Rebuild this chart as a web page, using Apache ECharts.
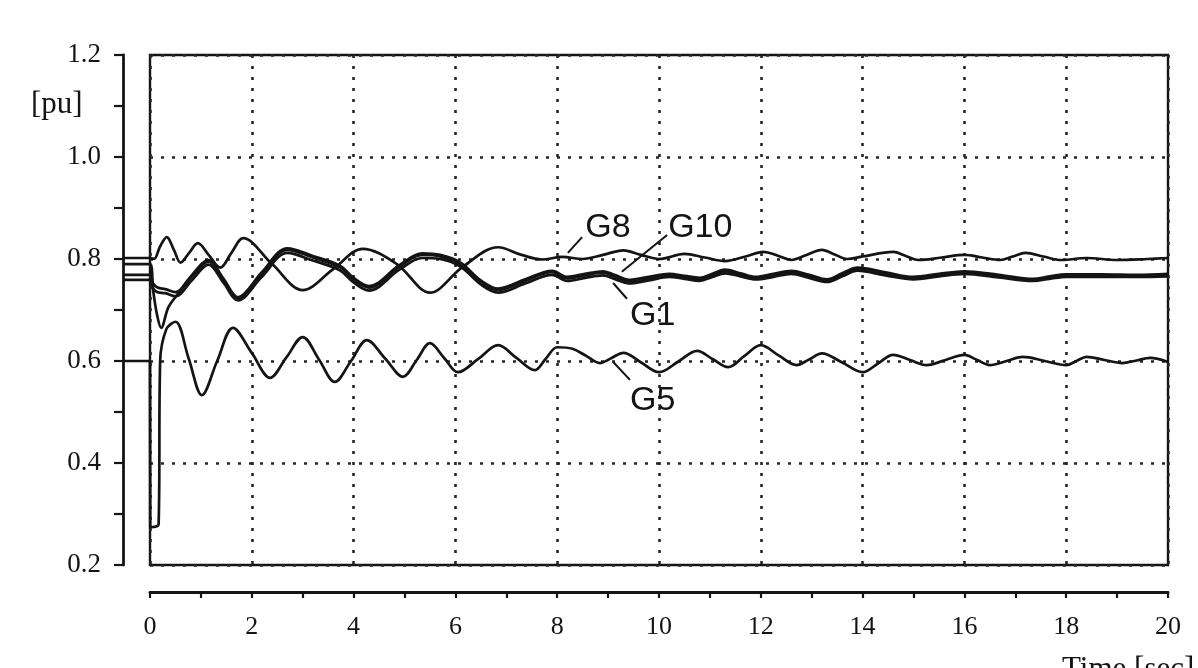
<!DOCTYPE html>
<html><head><meta charset="utf-8">
<script src="https://cdn.jsdelivr.net/npm/echarts@6/dist/echarts.min.js"></script>
<style>html,body{margin:0;padding:0;background:#fff}#c{width:1198px;height:668px}</style>
</head><body><div id="c"></div>
<script>
const g8 = [[-0.53,.802],[0,.802],[0.08,.80],[0.2,.825],[0.33,.843],[0.47,.818],[0.6,.793],[0.77,.812],[0.94,.831],[1.16,.807],[1.38,.783],[1.6,.812],[1.83,.841],[2.4,.79],[3.0,.739],[3.6,.78],[4.18,.82],[4.85,.79],[5.5,.734],[6.15,.785],[6.84,.823],[7.3,.808],[7.7,.799],[8.1,.804],[8.5,.80],[8.9,.808],[9.3,.817],[9.65,.808],[10.0,.80],[10.5,.81],[10.9,.803],[11.3,.796],[11.7,.805],[12.05,.814],[12.35,.806],[12.6,.798],[12.9,.808],[13.2,.818],[13.45,.809],[13.7,.80],[14.0,.805],[14.6,.814],[14.85,.806],[15.1,.798],[15.55,.803],[16.0,.808],[16.35,.803],[16.7,.798],[16.95,.805],[17.2,.812],[17.55,.805],[17.9,.798],[18.4,.802],[19.0,.798],[19.6,.80],[20,.802]];
const gb = [[-0.53,.79],[0,.79],[0.06,.74],[0.14,.69],[0.22,.665],[0.36,.705],[0.52,.728],[0.82,.768],[1.15,.798],[1.44,.762],[1.73,.725],[2.19,.773],[2.7,.821],[3.2,.806],[3.73,.787],[4.0,.763],[4.3,.747],[4.9,.788],[5.35,.811],[5.7,.808],[6.1,.793],[6.5,.758],[6.84,.742],[7.37,.76],[7.9,.777],[8.2,.765],[8.55,.771],[8.9,.776],[9.15,.768],[9.4,.759],[9.8,.765],[10.2,.771],[10.5,.767],[10.8,.763],[11.05,.771],[11.3,.779],[11.6,.772],[11.9,.765],[12.25,.771],[12.6,.777],[12.95,.769],[13.3,.76],[13.6,.772],[13.9,.783],[14.45,.774],[15.0,.765],[15.5,.771],[16.0,.776],[16.67,.769],[17.35,.761],[17.67,.766],[18.0,.77],[18.7,.77],[19.4,.769],[20,.771]];
const g10 = [[-0.53,.769],[0,.769],[0.06,.752],[0.15,.744],[0.3,.741],[0.5,.735],[0.82,.765],[1.15,.795],[1.44,.759],[1.73,.723],[2.19,.77],[2.7,.818],[3.2,.803],[3.73,.784],[4.0,.76],[4.3,.744],[4.9,.785],[5.35,.808],[5.7,.805],[6.1,.79],[6.5,.755],[6.84,.739],[7.37,.757],[7.9,.774],[8.2,.762],[8.55,.768],[8.9,.773],[9.15,.765],[9.4,.756],[9.8,.762],[10.2,.768],[10.5,.764],[10.8,.76],[11.05,.768],[11.3,.776],[11.6,.769],[11.9,.762],[12.25,.768],[12.6,.774],[12.95,.766],[13.3,.757],[13.6,.769],[13.9,.78],[14.45,.771],[15.0,.762],[15.5,.768],[16.0,.773],[16.67,.766],[17.35,.758],[17.67,.763],[18.0,.767],[18.7,.767],[19.4,.766],[20,.768]];
const g1 = [[-0.53,.759],[0,.759],[0.06,.742],[0.15,.735],[0.3,.733],[0.5,.727],[0.82,.758],[1.15,.789],[1.44,.754],[1.73,.719],[2.19,.764],[2.7,.812],[3.2,.797],[3.73,.778],[4.0,.754],[4.3,.738],[4.9,.779],[5.35,.802],[5.7,.8],[6.1,.785],[6.5,.75],[6.84,.734],[7.37,.752],[7.9,.769],[8.2,.757],[8.55,.763],[8.9,.768],[9.15,.76],[9.4,.752],[9.8,.758],[10.2,.765],[10.5,.761],[10.8,.757],[11.05,.765],[11.3,.772],[11.6,.766],[11.9,.76],[12.25,.765],[12.6,.771],[12.95,.763],[13.3,.755],[13.6,.766],[13.9,.777],[14.45,.768],[15.0,.76],[15.5,.766],[16.0,.771],[16.67,.764],[17.35,.757],[17.67,.761],[18.0,.765],[18.7,.765],[19.4,.765],[20,.766]];
const g5 = [[-0.53,.6],[0,.6],[0.005,.274],[0.17,.28],[0.2,.6],[0.32,.662],[0.5,.677],[0.76,.605],[1.02,.533],[1.32,.6],[1.63,.665],[2.0,.616],[2.36,.567],[2.68,.607],[3.0,.647],[3.32,.603],[3.63,.559],[3.95,.60],[4.26,.641],[4.62,.605],[4.97,.569],[5.24,.602],[5.5,.635],[5.78,.606],[6.05,.578],[6.45,.604],[6.84,.631],[7.2,.606],[7.56,.582],[7.78,.605],[8.0,.627],[8.3,.624],[8.57,.61],[8.84,.596],[9.07,.606],[9.3,.616],[9.65,.597],[10.0,.578],[10.38,.599],[10.75,.62],[11.05,.604],[11.36,.588],[11.68,.61],[12.0,.631],[12.35,.611],[12.7,.592],[12.95,.603],[13.2,.615],[13.6,.597],[14.0,.578],[14.3,.595],[14.6,.612],[14.93,.602],[15.26,.592],[15.63,.602],[16.0,.612],[16.25,.602],[16.5,.592],[16.83,.6],[17.15,.608],[17.58,.6],[18.0,.592],[18.2,.6],[18.4,.608],[18.75,.602],[19.1,.596],[19.38,.601],[19.65,.606],[20,.598]];

// annotation labels (top-left anchor in data units) and leader lines
const labelNames = ['G8','G10','G1','G5'];
const labelPos = [[8.55,.894],[10.18,.894],[9.43,.722],[9.43,.555]];
const leaders = [
  [[8.49,.843],[8.21,.812]],
  [[10.16,.847],[9.27,.775]],
  [[9.37,.722],[9.10,.753]],
  [[9.43,.563],[9.10,.598]]
];

const ink = '#141414';
const serif = '"Liberation Serif", "DejaVu Serif", serif';
const chart = echarts.init(document.getElementById('c'));
const curve = (name, data) => ({
  type:'line', name, data, xAxisIndex:0, yAxisIndex:0, showSymbol:false,
  smooth:0.35, lineStyle:{color:ink, width:2.7}, z:5, silent:true
});
const series = [curve('G8',g8), curve('Gb',gb), curve('G10',g10), curve('G1',g1), curve('G5',g5)];
leaders.forEach((seg,i)=>series.push({
  type:'line', name:'lead'+i, data:seg, xAxisIndex:0, yAxisIndex:0, showSymbol:false,
  lineStyle:{color:ink, width:2}, z:6, silent:true
}));

const dotted = {color:'#262626', type:[3,8], width:2.6};
chart.setOption({
  animation:false,
  backgroundColor:'#fff',
  grid:[
    {left:123, right:30, top:55, height:510},
    {left:150, right:30, top:55, height:510, show:true, borderColor:ink, borderWidth:2.4, backgroundColor:'transparent'}
  ],
  xAxis:[
    {gridIndex:0, type:'value', min:-0.53, max:20, show:false, axisLine:{onZero:false}},
    {gridIndex:1, type:'value', min:0, max:20, interval:2, position:'bottom', offset:27,
     axisLine:{show:true, onZero:false, lineStyle:{color:ink, width:2.8}},
     axisTick:{show:true, length:6, lineStyle:{color:ink, width:2.2}},
     minorTick:{show:true, splitNumber:2, length:6, lineStyle:{color:ink, width:2.2}},
     axisLabel:{fontFamily:serif, fontSize:26, color:ink, margin:22},
     splitLine:{show:true, lineStyle:dotted}}
  ],
  yAxis:[
    {gridIndex:0, type:'value', min:0.2, max:1.2, interval:0.2,
     axisLine:{show:true, onZero:false, lineStyle:{color:ink, width:2.8}},
     axisTick:{show:true, length:9, lineStyle:{color:ink, width:2.2}},
     minorTick:{show:true, splitNumber:2, length:9, lineStyle:{color:ink, width:2.2}},
     axisLabel:{formatter:v=>v.toFixed(1), fontFamily:serif, fontSize:27, color:ink, margin:22},
     splitLine:{show:false}},
    {gridIndex:1, type:'value', min:0.2, max:1.2, interval:0.2,
     axisLine:{show:false}, axisTick:{show:false}, axisLabel:{show:false},
     splitLine:{show:true, lineStyle:dotted}}
  ],
  series
});

const px = p => chart.convertToPixel({xAxisIndex:0, yAxisIndex:0}, p);
const graphics = labelNames.map((t,i)=>{
  const p = px(labelPos[i]);
  return {type:'text', x:p[0], y:p[1], z:20, style:{text:t, font:'34px "Liberation Sans", Arial, sans-serif', fill:ink, verticalAlign:'top', align:'left'}};
});
graphics.push({type:'text', x:31, y:89, z:20, style:{text:'[pu]', font:'31px '+serif, fill:ink, verticalAlign:'top'}});
graphics.push({type:'text', x:1062, y:654, z:20, style:{text:'Time [sec]', font:'31px '+serif, fill:ink, verticalAlign:'top'}});
chart.setOption({graphic:graphics});
</script></body></html>
